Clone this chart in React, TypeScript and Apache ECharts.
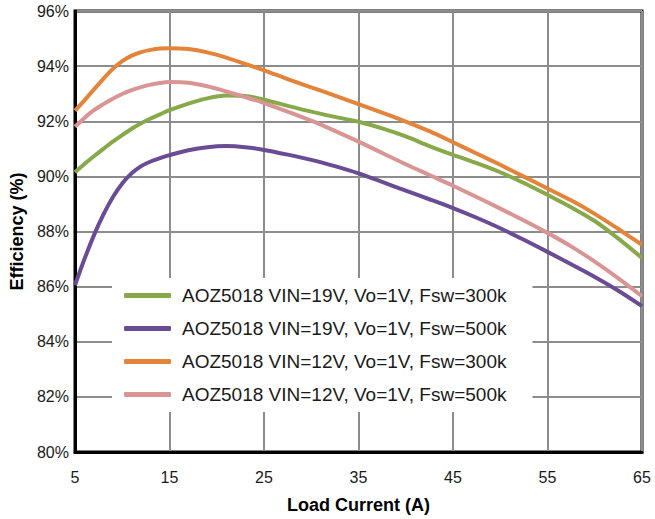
import React, { useEffect, useRef } from "react";
import * as echarts from "echarts";

const loadCurrent = [5, 6, 7, 8, 9, 10, 11, 12, 13, 14, 15, 17, 19, 21, 23, 25, 27.5, 30, 32.5, 35, 37.5, 40, 42.5, 45, 47.5, 50, 52.5, 55, 57.5, 60, 62.5, 65];

const vin19Fsw300 = [90.15, 90.45, 90.73, 91.0, 91.26, 91.5, 91.73, 91.93, 92.1, 92.25, 92.4, 92.64, 92.83, 92.93, 92.92, 92.78, 92.56, 92.35, 92.16, 91.98, 91.74, 91.45, 91.1, 90.78, 90.48, 90.15, 89.76, 89.33, 88.88, 88.38, 87.74, 87.04];
const vin19Fsw500 = [86.05, 87.0, 87.86, 88.61, 89.24, 89.74, 90.11, 90.37, 90.54, 90.66, 90.77, 90.95, 91.06, 91.1, 91.06, 90.96, 90.79, 90.6, 90.37, 90.11, 89.8, 89.48, 89.17, 88.85, 88.5, 88.12, 87.7, 87.26, 86.81, 86.35, 85.85, 85.29];
const vin12Fsw300 = [92.38, 92.76, 93.15, 93.54, 93.9, 94.18, 94.38, 94.51, 94.59, 94.64, 94.65, 94.62, 94.5, 94.31, 94.08, 93.85, 93.53, 93.23, 92.93, 92.62, 92.31, 91.99, 91.64, 91.24, 90.83, 90.42, 89.99, 89.56, 89.13, 88.64, 88.09, 87.52];
const vin12Fsw500 = [91.8, 92.12, 92.4, 92.62, 92.82, 92.99, 93.13, 93.24, 93.33, 93.39, 93.42, 93.4, 93.27, 93.08, 92.88, 92.66, 92.35, 92.02, 91.65, 91.26, 90.85, 90.44, 90.05, 89.66, 89.25, 88.83, 88.4, 87.95, 87.46, 86.91, 86.3, 85.65];

const seriesNames = [
  "AOZ5018 VIN=19V, Vo=1V, Fsw=300k",
  "AOZ5018 VIN=19V, Vo=1V, Fsw=500k",
  "AOZ5018 VIN=12V, Vo=1V, Fsw=300k",
  "AOZ5018 VIN=12V, Vo=1V, Fsw=500k",
];
const seriesColors = ["#87a94a", "#6a4c94", "#e4843a", "#d99494"];
const seriesValues = [vin19Fsw300, vin19Fsw500, vin12Fsw300, vin12Fsw500];

const FONT = "'Liberation Sans', Arial, sans-serif";

export default function App() {
  const ref = useRef<HTMLDivElement>(null);
  useEffect(() => {
    if (!ref.current) return;
    const chart = echarts.init(ref.current, null, { renderer: "svg" });
    chart.setOption({
      animation: false,
      backgroundColor: "#fff",
      grid: {
        left: 75,
        right: 13,
        top: 11,
        bottom: 66,
        show: true,
        borderColor: "#000",
        borderWidth: 3,
      },
      legend: {
        orient: "vertical",
        left: 112,
        top: 278,
        padding: [8, 26, 8, 12],
        itemGap: 14,
        itemWidth: 47,
        itemHeight: 5,
        icon: "roundRect",
        backgroundColor: "#fff",
        data: seriesNames,
        textStyle: {
          fontSize: 19,
          fontFamily: FONT,
          color: "#1a1a1a",
          lineHeight: 19,
          padding: [0, 0, 0, 6],
        },
      },
      xAxis: {
        type: "value",
        min: 5,
        max: 65,
        interval: 10,
        name: "Load Current (A)",
        nameLocation: "middle",
        nameGap: 44,
        nameTextStyle: { fontSize: 18, fontWeight: "bold", fontFamily: FONT, color: "#000" },
        axisLine: { show: true, lineStyle: { color: "#000", width: 3 } },
        axisTick: { show: false },
        axisLabel: { fontSize: 16, fontFamily: FONT, color: "#1a1a1a", margin: 17 },
        splitLine: { show: true, lineStyle: { color: "#8c8c8c", width: 2 } },
      },
      yAxis: {
        type: "value",
        min: 80,
        max: 96,
        interval: 2,
        name: "Efficiency (%)",
        nameLocation: "middle",
        nameRotate: 90,
        nameGap: 48,
        nameTextStyle: { fontSize: 18, fontWeight: "bold", fontFamily: FONT, color: "#000" },
        axisLine: { show: true, lineStyle: { color: "#000", width: 3 } },
        axisTick: { show: false },
        axisLabel: { fontSize: 16, fontFamily: FONT, color: "#1a1a1a", margin: 6, formatter: "{value}%" },
        splitLine: { show: true, lineStyle: { color: "#8c8c8c", width: 2 } },
      },
      series: seriesNames.map((name, i) => ({
        name,
        type: "line",
        showSymbol: false,
        symbol: "none",
        smooth: 0.3,
        color: seriesColors[i],
        lineStyle: { width: 4, color: seriesColors[i] },
        data: loadCurrent.map((x, j) => [x, seriesValues[i][j]]),
      })),
    });
    return () => chart.dispose();
  }, []);
  return (
    <div
      ref={ref}
      style={{ position: "fixed", left: 0, top: 0, width: 655, height: 519 }}
    />
  );
}
